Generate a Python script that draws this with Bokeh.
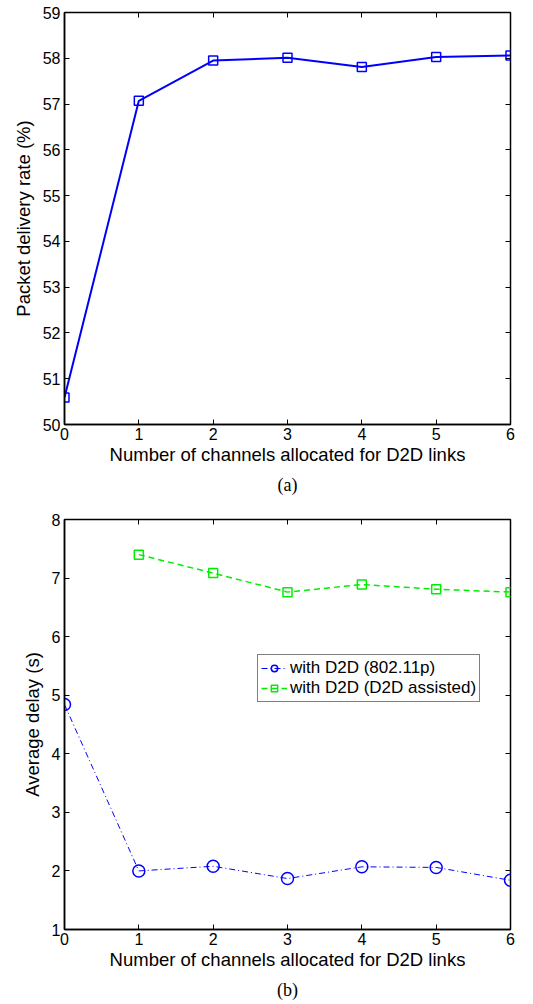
from bokeh.plotting import figure
from bokeh.layouts import column
from bokeh.models import LinearAxis, Range1d, FixedTicker, Title, Legend, LegendItem
from bokeh.embed import file_html
from bokeh.resources import INLINE

channels = [0, 1, 2, 3, 4, 5, 6]
pdr = [50.59, 57.07, 57.95, 58.01, 57.81, 58.03, 58.06]

channels_d2d = [1, 2, 3, 4, 5, 6]
delay_80211p = [4.84, 2.00, 2.08, 1.87, 2.07, 2.06, 1.84]
delay_assisted = [7.40, 7.085, 6.76, 6.89, 6.81, 6.76]

x_ticks = [0, 1, 2, 3, 4, 5, 6]
y_ticks_a = [50, 51, 52, 53, 54, 55, 56, 57, 58, 59]
y_ticks_b = [1, 2, 3, 4, 5, 6, 7, 8]

FONT = "Liberation Sans"


def style(p, yticks, ylabel, caption):
    p.xaxis.ticker = FixedTicker(ticks=x_ticks)
    p.yaxis.ticker = FixedTicker(ticks=yticks)
    p.xgrid.visible = False
    p.ygrid.visible = False
    p.outline_line_color = "black"
    p.outline_line_width = 1.5
    for ax in [p.xaxis[0], p.yaxis[0]]:
        ax.major_tick_in = 5
        ax.major_tick_out = 0
        ax.minor_tick_line_color = None
        ax.axis_line_width = 1.5
        ax.axis_line_color = "black"
        ax.major_tick_line_color = "black"
        ax.major_label_text_font = FONT
        ax.major_label_text_font_size = "16px"
        ax.major_label_text_color = "black"
        ax.axis_label_text_font = FONT
        ax.axis_label_text_font_style = "normal"
        ax.axis_label_text_font_size = "18.5px"
        ax.axis_label_text_color = "black"
    p.xaxis.axis_label = "Number of channels allocated for D2D links"
    p.yaxis.axis_label = ylabel
    p.xaxis.major_label_standoff = 3
    p.xaxis.axis_label_standoff = 1
    p.yaxis.major_label_standoff = 4
    p.yaxis.axis_label_standoff = 6
    # top/right axes with inward ticks, no labels
    top = LinearAxis(ticker=FixedTicker(ticks=x_ticks), major_tick_in=5, major_tick_out=0,
                     minor_tick_line_color=None,
                     major_label_overrides={t: "" for t in x_ticks},
                     axis_line_color=None, major_tick_line_color="black")
    right = LinearAxis(ticker=FixedTicker(ticks=yticks), major_tick_in=5, major_tick_out=0,
                       minor_tick_line_color=None,
                       major_label_overrides={t: "" for t in yticks},
                       axis_line_color=None, major_tick_line_color="black")
    p.add_layout(top, "above")
    p.add_layout(right, "right")
    t = Title(text=caption, align="center", text_font="Liberation Serif",
              text_font_size="18px", text_font_style="normal", text_color="black")
    p.add_layout(t, "below")


p1 = figure(width=533, height=500, output_backend="svg", toolbar_location=None,
            x_range=Range1d(0, 6), y_range=Range1d(50, 59),
            min_border_left=64, min_border_right=23, min_border_top=12, min_border_bottom=76)
p1.line(channels, pdr, line_color="#0000ff", line_width=2)
p1.scatter(channels, pdr, marker="square", size=9, fill_color=None, line_color="#0000ff", line_width=1.5)
style(p1, y_ticks_a, "Packet delivery rate (%)", "(a)")

p2 = figure(width=533, height=504, output_backend="svg", toolbar_location=None,
            x_range=Range1d(0, 6), y_range=Range1d(1, 8),
            min_border_left=64, min_border_right=23, min_border_top=19, min_border_bottom=74)
l1 = p2.line(channels, delay_80211p, line_color="#0000ff", line_width=1, line_dash="6 3 1 3")
m1 = p2.scatter(channels, delay_80211p, marker="circle", size=12, fill_color=None,
                line_color="#0000ff", line_width=1.5)
l2 = p2.line(channels_d2d, delay_assisted, line_color="#00ee00", line_width=1.5, line_dash="6 4")
m2 = p2.scatter(channels_d2d, delay_assisted, marker="square", size=9, fill_color=None,
                line_color="#00ee00", line_width=1.5)
style(p2, y_ticks_b, "Average delay (s)", "(b)")

legend = Legend(items=[LegendItem(label="with D2D (802.11p)", renderers=[l1, m1]),
                       LegendItem(label="with D2D (D2D assisted)", renderers=[l2, m2])],
                location=(193, 227), border_line_color="black", border_line_width=1,
                label_text_font=FONT, label_text_font_size="17px", label_text_color="black",
                glyph_width=26, glyph_height=16, spacing=0, padding=3, margin=0,
                label_standoff=3, label_height=17)
p2.add_layout(legend, "center")

out = column(p1, p2, spacing=0)
open("out.html", "w").write(file_html(out, INLINE))
